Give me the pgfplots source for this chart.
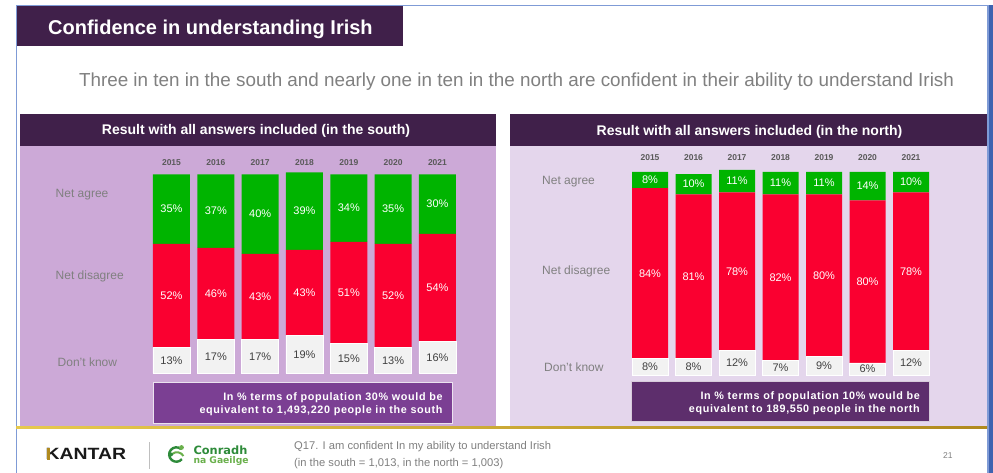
\documentclass[border=0pt]{standalone}
\usepackage{pgfplots}
\pgfplotsset{compat=1.18}
\usepackage{pgfplotstable}
\usepackage{fontspec}
\setmainfont{Liberation Sans}
\newfontfamily\dejavu{DejaVu Sans}
\newfontfamily\spaced[LetterSpace=6]{Liberation Sans}
\definecolor{dpurple}{HTML}{40204A}
\definecolor{southbg}{HTML}{CCA9D7}
\definecolor{northbg}{HTML}{E4D6EC}
\definecolor{bargreen}{HTML}{00B400}
\definecolor{barred}{HTML}{FA0030}
\definecolor{dkfill}{HTML}{F2F2F2}
\definecolor{southbox}{HTML}{7B3F93}
\definecolor{northbox}{HTML}{5D2E6C}
\definecolor{txtgray}{HTML}{808080}
\definecolor{yeargray}{HTML}{5A5A5A}
\definecolor{dkgray}{HTML}{404040}
\definecolor{goldA}{HTML}{E6C94E}
\definecolor{goldB}{HTML}{B08A1E}
\definecolor{slideblue}{HTML}{7F9BD6}
\definecolor{slidedark}{HTML}{3F63B0}
\definecolor{cngreen}{HTML}{2E8B3A}
\definecolor{cnlight}{HTML}{6AB04C}

\pgfplotstableread{
x agree disagree dk
0 35 52 13
1 37 46 17
2 40 43 17
3 39 43 19
4 34 51 15
5 35 52 13
6 30 54 16
}\southdata
\pgfplotstableread{
x agree disagree dk
0 8 84 8
1 10 81 8
2 11 78 12
3 11 82 7
4 11 80 9
5 14 80 6
6 10 78 12
}\northdata

\pgfplotsset{
  barax/.style={
    scale only axis, anchor=south west,
    xmin=-0.5, xmax=6.5, ymin=0, ymax=100,
    axis line style={draw=none}, tick style={draw=none},
    ytick=\empty, clip=false,
    /pgf/number format/assume math mode=true,
  },
  yearticks/.style={
    xtick={0,...,6},
    xticklabels={2015,2016,2017,2018,2019,2020,2021},
    xticklabel pos=right,
    xticklabel style={font=\fontsize{8.5}{10}\selectfont\bfseries, text=yeargray, inner sep=0pt, anchor=base, yshift=#1},
  },
  lbl/.style={
    draw=none, mark=none, point meta=explicit,
    nodes near coords={\pgfmathprintnumber{\pgfplotspointmeta}\%},
    every node near coord/.append style={anchor=center, inner sep=0pt,
      font=\fontsize{11}{13}\selectfont, text=#1},
  },
}

\begin{document}
\begin{tikzpicture}[x=1pt,y=1pt]
\useasboundingbox (0,0) rectangle (993,473);
\fill[white] (0,0) rectangle (993,473);
% slide frame
\draw[slideblue, line width=1pt] (16.5,0) -- (16.5,467.5) -- (988,467.5);
\fill[slidedark] (988,0) rectangle (993,468);
\fill[slideblue] (987,0) rectangle (988.5,468);
% title
\fill[dpurple] (17,427) rectangle (403,467);
\node[anchor=base west, text=white, font=\fontsize{20}{24}\selectfont\bfseries, inner sep=0pt] at (48,438) {Confidence in understanding Irish};
\node[anchor=base, text=txtgray, font=\fontsize{18.85}{22}\selectfont, inner sep=0pt] at (516.5,386.5) {Three in ten in the south and nearly one in ten in the north are confident in their ability to understand Irish};
% panels
\fill[southbg] (20,46) rectangle (496,327.5);
\fill[dpurple] (20,327.3) rectangle (496,359);
\fill[northbg] (510,46) rectangle (987,327.5);
\fill[dpurple] (510,327.3) rectangle (987,359);
\node[anchor=base, text=white, font=\fontsize{14}{16}\selectfont\bfseries, inner sep=0pt] at (256,338) {Result with all answers included (in the south)};
\node[anchor=base, text=white, font=\fontsize{14}{16}\selectfont\bfseries, inner sep=0pt] at (749.5,337) {Result with all answers included (in the north)};
\shade[left color=goldA, right color=goldB] (16,44.3) rectangle (987,46.3);

% south bars
\begin{axis}[barax, yearticks=8.3pt, at={(149.33pt,99.7pt)}, width=310.3pt, height=199pt, ybar stacked, bar width=37pt]
\addplot[fill=dkfill, draw=white, line width=0.6pt] table[x=x,y=dk]{\southdata};
\addplot[fill=barred, draw=none] table[x=x,y=disagree]{\southdata};
\addplot[fill=bargreen, draw=none] table[x=x,y=agree]{\southdata};
\end{axis}
\begin{axis}[barax, xtick=\empty, at={(149.33pt,99.7pt)}, width=310.3pt, height=199pt]
\addplot[lbl=dkgray] table[x=x, y expr=\thisrow{dk}/2, meta=dk]{\southdata};
\addplot[lbl=white] table[x=x, y expr=\thisrow{dk}+\thisrow{disagree}/2, meta=disagree]{\southdata};
\addplot[lbl=white] table[x=x, y expr=\thisrow{dk}+\thisrow{disagree}+\thisrow{agree}/2, meta=agree]{\southdata};
\end{axis}

% north bars
\begin{axis}[barax, yearticks=11pt, at={(628.25pt,98pt)}, width=304.5pt, height=203pt, ybar stacked, bar width=36pt]
\addplot[fill=dkfill, draw=white, line width=0.6pt] table[x=x,y=dk]{\northdata};
\addplot[fill=barred, draw=none] table[x=x,y=disagree]{\northdata};
\addplot[fill=bargreen, draw=none] table[x=x,y=agree]{\northdata};
\end{axis}
\begin{axis}[barax, xtick=\empty, at={(628.25pt,98pt)}, width=304.5pt, height=203pt]
\addplot[lbl=dkgray] table[x=x, y expr=\thisrow{dk}/2, meta=dk]{\northdata};
\addplot[lbl=white] table[x=x, y expr=\thisrow{dk}+\thisrow{disagree}/2, meta=disagree]{\northdata};
\addplot[lbl=white] table[x=x, y expr=\thisrow{dk}+\thisrow{disagree}+\thisrow{agree}/2, meta=agree]{\northdata};
\end{axis}

% category labels
\begin{scope}[every node/.style={anchor=base west, inner sep=0pt, text=txtgray, font=\fontsize{12}{14}\selectfont}]
\node at (55.5,275) {Net agree};
\node at (55.5,193) {Net disagree};
\node at (57.5,106) {Don't know};
\node at (542,288) {Net agree};
\node at (542,198) {Net disagree};
\node at (544,101) {Don't know};
\end{scope}

% note boxes
\fill[southbox, draw=white!85!southbox, line width=1pt] (153,49) rectangle (452,90);
\fill[northbox, draw=white!75!northbox, line width=1pt] (631,51) rectangle (929,91);
\begin{scope}[every node/.style={anchor=base east, inner sep=0pt, text=white, font=\spaced\fontsize{10.8}{13}\selectfont\bfseries}]
\node at (442.7,72) {In \% terms of population 30\% would be};
\node at (442.7,59) {equivalent to 1,493,220 people in the south};
\node at (920,73) {In \% terms of population 10\% would be};
\node at (920,60.5) {equivalent to 189,550 people in the north};
\end{scope}

% footer
\node[anchor=base west, inner sep=0pt, text=black!90, font=\fontsize{16.3}{18}\selectfont\bfseries] at (45.4,13) {\scalebox{1.19}[1]{KANTAR}};
\fill[goldB] (46.8,13) rectangle (49.5,24.7);
\draw[black!25, line width=0.8pt] (149,4) -- (149,31);
\draw[cngreen, line width=2.4pt] (181,24) arc[start angle=50, end angle=320, radius=7.2];
\fill[cnlight] (181.5,25.5) circle (2.4);
\draw[cnlight, line width=2pt] (172,19) .. controls (176,22) and (181,21) .. (183.5,17);
\fill[cngreen] (171,18.5) circle (2);
\node[anchor=base west, inner sep=0pt, text=cngreen, font=\dejavu\fontsize{11.4}{13}\selectfont\bfseries] at (193.3,18) {Conradh};
\node[anchor=base west, inner sep=0pt, text=cnlight, font=\dejavu\fontsize{9.2}{11}\selectfont\bfseries] at (193.3,9.7) {na Gaeilge};
\node[anchor=base west, inner sep=0pt, text=txtgray, font=\fontsize{11.2}{13}\selectfont] at (294,23) {Q17. I am confident In my ability to understand Irish};
\node[anchor=base west, inner sep=0pt, text=txtgray, font=\fontsize{11.2}{13}\selectfont] at (294,6.7) {(in the south = 1,013, in the north = 1,003)};
\node[anchor=base west, inner sep=0pt, text=txtgray, font=\fontsize{8.5}{10}\selectfont] at (943,14.7) {21};
\end{tikzpicture}
\end{document}
